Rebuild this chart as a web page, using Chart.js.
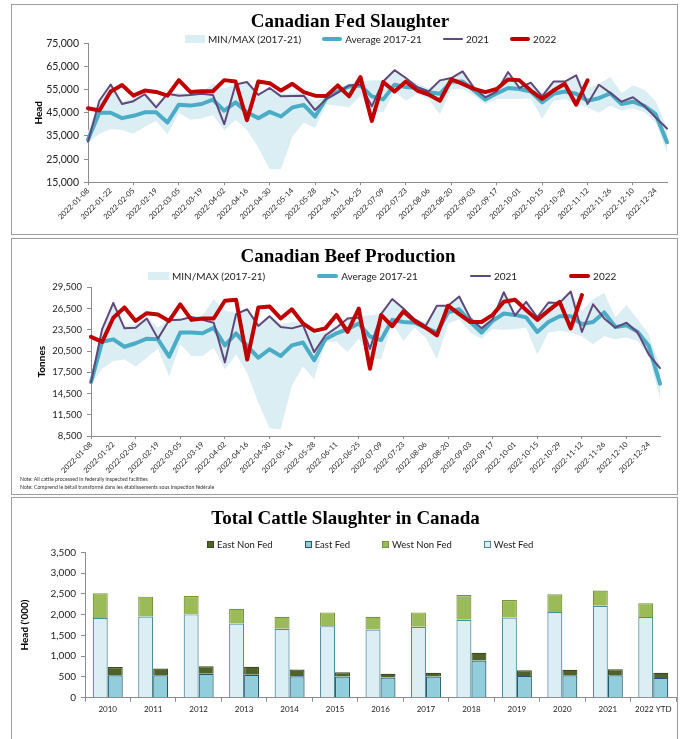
<!DOCTYPE html>
<html>
<head>
<meta charset="utf-8">
<title>Canadian Cattle Slaughter</title>
<script src="https://cdn.jsdelivr.net/npm/chart.js@4.4.1/dist/chart.umd.min.js"></script>
<style>
  html, body { margin: 0; padding: 0; background: #fff; }
  body { position: relative; width: 681px; height: 739px; overflow: hidden; font-family: Lato, 'Open Sans', sans-serif; color: #1a1a1a; }
  .panel { position: absolute; left: 11px; width: 667px; border: 1px solid #9c9c9c; box-sizing: border-box; }
  .wrap { position: absolute; left: 0; top: 0; width: 665px; }
  .legend { position: absolute; display: flex; align-items: center; height: 12px; font-size: 10px; white-space: nowrap; color: #1a1a1a; }
  .legend .item { display: flex; align-items: center; }
  .legend .sw { margin-right: 3px; flex: none; box-sizing: border-box; }
  .note { position: absolute; left: 20px; font-size: 5.2px; color: #333; white-space: nowrap; }
</style>
</head>
<body>

<div class="panel" style="top:4px;height:231px"><div class="wrap" style="height:229px"><canvas id="fedChart"></canvas></div></div>
<div class="panel" style="top:238px;height:257px"><div class="wrap" style="height:240px"><canvas id="beefChart"></canvas></div></div>
<div class="panel" style="top:497px;height:250px"><div class="wrap" style="height:241px"><canvas id="totalChart"></canvas></div></div>

<div id="fedLegend" class="legend" style="left:185px;top:33px;gap:21px"></div>
<div id="beefLegend" class="legend" style="left:148px;top:270px;gap:52px"></div>
<div id="totalLegend" class="legend" style="left:207px;top:538px;gap:32px;font-size:9.5px"></div>

<div class="note" style="top:476px">Note: All cattle processed in federally inspected facilities</div>
<div class="note" style="top:484px">Note: Comprend le bétail transformé dans les établissements sous inspection fédérale</div>

<script>
// weekly slaughter / production, week ending dates
const weeks = [
  '2022-01-08', '2022-01-15', '2022-01-22', '2022-01-29', '2022-02-05', '2022-02-12', '2022-02-19', '2022-02-26',
  '2022-03-05', '2022-03-12', '2022-03-19', '2022-03-26', '2022-04-02', '2022-04-09', '2022-04-16', '2022-04-23',
  '2022-04-30', '2022-05-07', '2022-05-14', '2022-05-21', '2022-05-28', '2022-06-04', '2022-06-11', '2022-06-18',
  '2022-06-25', '2022-07-02', '2022-07-09', '2022-07-16', '2022-07-23', '2022-07-30', '2022-08-06', '2022-08-13',
  '2022-08-20', '2022-08-27', '2022-09-03', '2022-09-10', '2022-09-17', '2022-09-24', '2022-10-01', '2022-10-08',
  '2022-10-15', '2022-10-22', '2022-10-29', '2022-11-05', '2022-11-12', '2022-11-19', '2022-11-26', '2022-12-03',
  '2022-12-10', '2022-12-17', '2022-12-24', '2022-12-31'
];

// Canadian fed slaughter (head)
const fedMax = [37000, 50500, 57500, 50000, 51000, 53500, 49000, 53500, 53500, 53000, 54000, 57500, 55500, 57500, 58500, 53000,
  56000, 53000, 53500, 53000, 50000, 52000, 55000, 57500, 58500, 59000, 59000, 63400, 60000, 57500, 55500, 59000,
  60000, 62900, 57000, 53000, 55500, 62600, 57000, 58000, 53500, 58500, 58500, 61200, 55500, 57500, 60500, 53500,
  56800, 55000, 50000, 38500];
const fedMin = [32000, 36000, 38000, 37600, 36000, 39000, 41500, 35600, 45000, 42000, 42500, 44000, 37500, 42000, 37600, 30000,
  20600, 20600, 34700, 40800, 38600, 48600, 48000, 47300, 52400, 46300, 45200, 54200, 50200, 53200, 51000, 44400,
  55300, 55300, 52400, 48800, 51000, 51000, 51000, 51300, 42500, 50200, 51000, 48800, 47300, 45000, 48000, 46000,
  47000, 45200, 40800, 28000];
const fedAvg = [33500, 45000, 45000, 42700, 43700, 45200, 45200, 40800, 48500, 48100, 48800, 50700, 45900, 49500, 45200, 42700,
  45400, 43400, 47300, 48400, 43400, 51300, 54200, 56400, 56800, 52100, 50800, 57100, 56100, 55700, 53900, 53200,
  58500, 58500, 54600, 50700, 53400, 55700, 55300, 54200, 49500, 53200, 54200, 53200, 50200, 51300, 53400, 48800,
  49800, 48000, 44400, 32300];
const fed2021 = [32500, 50200, 57200, 48800, 50000, 53000, 47300, 53200, 52400, 52700, 53200, 52700, 40100, 57200, 58300, 52700,
  55700, 52100, 52300, 52400, 46200, 51000, 53700, 56800, 57200, 47800, 58500, 63400, 60000, 56100, 54200, 59000,
  60000, 62900, 55700, 51700, 54200, 62600, 55700, 58000, 52100, 58500, 58500, 61200, 48800, 57100, 53600, 49800,
  51700, 48000, 43000, 38200];
const fed2022 = [47000, 46000, 54200, 57000, 52400, 54600, 54000, 52400, 59100, 54000, 54300, 54300, 59100, 58500, 41800, 58500,
  57800, 54600, 57500, 53900, 52400, 52300, 56800, 52100, 60400, 41500, 58300, 54200, 58500, 54600, 52900, 50200,
  59400, 57500, 55300, 53900, 55300, 59400, 59000, 54600, 51000, 54600, 57500, 48500, 59000];

// Canadian beef production (tonnes)
const beefMax = [16950, 23700, 27300, 24050, 24300, 25250, 23800, 25100, 25100, 25400, 25500, 27850, 26200, 25950, 26400, 24300,
  25550, 24300, 24600, 24500, 22850, 23100, 24050, 25250, 25550, 25500, 25700, 27850, 26500, 25100, 24600, 26900,
  27000, 28200, 25500, 24300, 25500, 28800, 25950, 27450, 25500, 27350, 27350, 28900, 26200, 27850, 28700, 25250,
  27000, 25000, 22850, 18300];
const beefMin = [15750, 18000, 19100, 19300, 18300, 19550, 20850, 16950, 21450, 19800, 19800, 20950, 17900, 20000, 17400, 13150,
  9600, 9450, 15600, 18300, 16550, 21800, 21800, 20350, 22250, 19550, 19300, 24500, 21900, 23800, 22400, 19300,
  24400, 25000, 23100, 22250, 23600, 23500, 23600, 23800, 20000, 23100, 23350, 23100, 22600, 21450, 22600, 22150,
  22400, 21900, 19800, 13850];
const beefAvg = [16100, 21800, 22150, 21100, 21600, 22250, 22150, 19700, 23100, 23100, 23000, 23800, 21300, 23000, 21200, 19550,
  20750, 19800, 21300, 21700, 19200, 22150, 23000, 23600, 24400, 22550, 22050, 24900, 24600, 24500, 23800, 23100,
  25950, 26400, 24600, 23100, 24750, 25800, 25600, 25250, 23200, 24600, 25400, 25400, 24300, 24600, 25950, 23900,
  24150, 23200, 21200, 15900];
const beef2021 = [16100, 23600, 27300, 23700, 23800, 25100, 22250, 24850, 24900, 25300, 24900, 24500, 18900, 25700, 26400, 24050,
  25400, 23900, 23700, 24150, 20350, 22700, 23800, 25100, 25250, 20800, 25700, 27850, 26500, 25000, 24050, 26900,
  26900, 28200, 25100, 23700, 25000, 28800, 25500, 27450, 25250, 27350, 27300, 28900, 23200, 27100, 25100, 23800,
  24500, 23100, 20000, 18100];
const beef2022 = [22500, 21800, 25200, 26650, 24750, 25850, 25650, 24750, 27100, 24900, 25100, 25100, 27600, 27750, 19300, 26650,
  26800, 25100, 26400, 24400, 23350, 23700, 25600, 23200, 26500, 18000, 25600, 24000, 26100, 24750, 23800, 22700,
  26900, 25700, 24600, 24600, 25600, 27450, 27750, 26300, 24900, 26200, 27450, 23700, 28400];

// total cattle slaughter ('000 head)
const years = ['2010', '2011', '2012', '2013', '2014', '2015', '2016', '2017', '2018', '2019', '2020', '2021', '2022 YTD'];
const westFed = [1916, 1956, 2005, 1786, 1657, 1722, 1641, 1706, 1875, 1932, 2061, 2215, 1940];
const westNonFed = [598, 477, 444, 356, 291, 331, 307, 347, 598, 420, 429, 363, 331];
const eastFed = [542, 542, 574, 550, 517, 509, 485, 509, 897, 525, 542, 542, 477];
const eastNonFed = [194, 161, 186, 194, 162, 105, 89, 89, 186, 138, 129, 145, 121];

const RED = '#c00000';
const PURPLE = '#60497a';
const TEAL = '#4bacc6';
const BAND = '#daeef3';
const GRAY = '#8c8c8c';
const TITLE_FONT = { family: "'Liberation Serif', 'Times New Roman', serif", size: 19, weight: 'bold', lineHeight: 1 };

Chart.defaults.font.family = "Lato, 'Open Sans', sans-serif";
Chart.defaults.color = '#1a1a1a';
Chart.defaults.animation = false;

function weeklyChart(id, c) {
  return new Chart(document.getElementById(id), {
    type: 'line',
    data: {
      labels: weeks,
      datasets: [
        { label: '2022', data: c.y2022, borderColor: RED, borderWidth: 4, swatch: 'line' },
        { label: '2021', data: c.y2021, borderColor: PURPLE, borderWidth: 2, swatch: 'line' },
        { label: 'Average 2017-21', data: c.avg, borderColor: TEAL, borderWidth: 4, swatch: 'line' },
        { label: 'MIN/MAX (2017-21)', data: c.max, borderColor: 'transparent', borderWidth: 0,
          backgroundColor: BAND, fill: '+1', swatch: 'rect' },
        { label: 'min', data: c.min, borderColor: 'transparent', borderWidth: 0, fill: false }
      ]
    },
    options: {
      responsive: true,
      maintainAspectRatio: false,
      elements: {
        point: { radius: 0 },
        line: { tension: 0, borderJoinStyle: 'round', borderCapStyle: 'round' }
      },
      layout: { padding: { left: c.padLeft, right: c.padRight } },
      plugins: {
        legend: { display: false },
        tooltip: { enabled: false },
        title: {
          display: true, text: c.title, color: '#000', font: TITLE_FONT,
          padding: { top: c.titleTop, bottom: c.titleBottom }
        }
      },
      scales: {
        x: {
          offset: false,
          border: { display: true, color: GRAY },
          grid: {
            drawOnChartArea: false, tickLength: 3,
            tickColor: (ctx) => (ctx.index % 2 ? 'rgba(0,0,0,0)' : GRAY)
          },
          ticks: {
            autoSkip: false, minRotation: 45, maxRotation: 45, padding: 1,
            font: { size: 7.5 }, color: '#222',
            callback: function (v, i) { return i % 2 ? null : this.getLabelForValue(v); }
          },
          afterFit: (s) => { s.height = c.xHeight; }
        },
        y: {
          min: c.yMin, max: c.yMax,
          border: { display: true, color: GRAY },
          grid: { drawOnChartArea: false, tickLength: 4, color: GRAY },
          ticks: { stepSize: c.yStep, padding: 5, font: { size: c.tickSize }, color: '#222' },
          title: {
            display: true, text: c.yTitle, color: '#000',
            font: { size: 10, weight: 'bold' }, padding: { top: c.yTitlePad, bottom: 0 }
          },
          afterFit: (s) => { s.width = c.yWidth; }
        }
      }
    }
  });
}

const fedChart = weeklyChart('fedChart', {
  title: 'Canadian Fed Slaughter', yTitle: 'Head',
  y2022: fed2022, y2021: fed2021, avg: fedAvg, max: fedMax, min: fedMin,
  yMin: 15000, yMax: 75000, yStep: 10000, tickSize: 10.5,
  padLeft: 21, padRight: 10, yWidth: 55, yTitlePad: 0,
  titleTop: 8, titleBottom: 11.3, xHeight: 51.7
});

const beefChart = weeklyChart('beefChart', {
  title: 'Canadian Beef Production', yTitle: 'Tonnes',
  y2022: beef2022, y2021: beef2021, avg: beefAvg, max: beefMax, min: beefMin,
  yMin: 8500, yMax: 29500, yStep: 3000, tickSize: 9.5,
  padLeft: 24, padRight: 17, yWidth: 55, yTitlePad: 0,
  titleTop: 9, titleBottom: 20.3, xHeight: 43
});

const totalChart = new Chart(document.getElementById('totalChart'), {
  type: 'bar',
  data: {
    labels: years,
    datasets: [
      { label: 'West Fed', data: westFed, stack: 'west', backgroundColor: '#dbeef4', borderColor: '#4d8a9b' },
      { label: 'West Non Fed', data: westNonFed, stack: 'west', backgroundColor: '#9bbb59', borderColor: '#77933c' },
      { label: 'East Fed', data: eastFed, stack: 'east', backgroundColor: '#92cddc', borderColor: '#215968' },
      { label: 'East Non Fed', data: eastNonFed, stack: 'east', backgroundColor: '#4f6228', borderColor: '#3b4a1e' }
    ]
  },
  options: {
    responsive: true,
    maintainAspectRatio: false,
    datasets: { bar: { borderWidth: 1.2, barPercentage: 1, categoryPercentage: 0.66 } },
    layout: { padding: { left: 3, right: 1 } },
    plugins: {
      legend: { display: false },
      tooltip: { enabled: false },
      title: {
        display: true, text: 'Total Cattle Slaughter in Canada', color: '#000', font: TITLE_FONT,
        padding: { top: 12, bottom: 23.3 }
      }
    },
    scales: {
      x: {
        stacked: true,
        border: { display: true, color: GRAY },
        grid: { drawOnChartArea: false, tickLength: 4, color: GRAY },
        ticks: { autoSkip: false, maxRotation: 0, padding: 3, font: { size: 8 }, color: '#222' },
        afterFit: (s) => { s.height = 41.3; }
      },
      y: {
        stacked: true, min: 0, max: 3500,
        border: { display: true, color: GRAY },
        grid: { drawOnChartArea: false, tickLength: 4, color: GRAY },
        ticks: { stepSize: 500, padding: 5, font: { size: 10 }, color: '#222' },
        title: {
          display: true, text: "Head ('000)", color: '#000',
          font: { size: 10, weight: 'bold' }, padding: { top: 4, bottom: 0 }
        },
        afterFit: (s) => { s.width = 70; }
      }
    }
  }
});

// html legends, built from the datasets (reverse order like the Excel originals)
function lineLegend(elId, chart, swW) {
  const el = document.getElementById(elId);
  chart.data.datasets.slice().reverse().forEach((ds) => {
    if (!ds.swatch) return;
    const item = document.createElement('div');
    item.className = 'item';
    const sw = document.createElement('span');
    sw.className = 'sw';
    sw.style.width = swW + 'px';
    if (ds.swatch === 'rect') {
      sw.style.height = '8px';
      sw.style.background = ds.backgroundColor;
    } else {
      sw.style.height = ds.borderWidth + 'px';
      sw.style.background = ds.borderColor;
      sw.style.borderRadius = '2px';
    }
    item.appendChild(sw);
    item.appendChild(document.createTextNode(ds.label));
    el.appendChild(item);
  });
}

function barLegend(elId, chart) {
  const el = document.getElementById(elId);
  chart.data.datasets.slice().reverse().forEach((ds) => {
    const item = document.createElement('div');
    item.className = 'item';
    const sw = document.createElement('span');
    sw.className = 'sw';
    sw.style.width = '7px';
    sw.style.height = '7px';
    sw.style.background = ds.backgroundColor;
    sw.style.border = '1px solid ' + ds.borderColor;
    item.appendChild(sw);
    item.appendChild(document.createTextNode(ds.label));
    el.appendChild(item);
  });
}

lineLegend('fedLegend', fedChart, 20);
lineLegend('beefLegend', beefChart, 21);
barLegend('totalLegend', totalChart);
</script>
</body>
</html>
